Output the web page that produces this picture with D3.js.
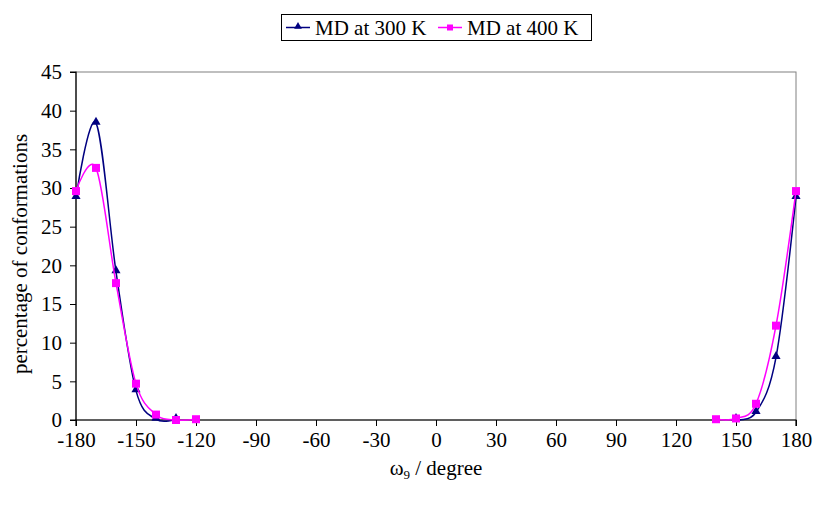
<!DOCTYPE html>
<html>
<head>
<meta charset="utf-8">
<script src="https://cdn.jsdelivr.net/npm/d3@7"></script>
<style>
  html, body { margin: 0; padding: 0; background: #fff; }
  svg { display: block; }
  svg text { font-family: "Liberation Serif", "Times New Roman", serif !important; fill: #000; }
</style>
</head>
<body>
<svg id="chart" width="814" height="505"></svg>
<script>
// ---- data ----
const angles = [-180, -170, -160, -150, -140, -130, -120, 140, 150, 160, 170, 180];
const md300 = [28.8, 38.4, 19.2, 3.8, 0.1, 0.1, null, null, 0.1, 1.0, 8.1, 28.8];
const md400 = [29.6, 32.6, 17.7, 4.7, 0.7, 0.0, 0.1, 0.1, 0.2, 2.1, 12.2, 29.6];
const seriesNames = ["MD at 300 K", "MD at 400 K"];
const xTicks = [-180, -150, -120, -90, -60, -30, 0, 30, 60, 90, 120, 150, 180];
const yTicks = [0, 5, 10, 15, 20, 25, 30, 35, 40, 45];

const colors = ["#000080", "#FF00FF"];
const FONT = "'Liberation Serif', 'Times New Roman', serif";
const FS = "21px";

const svg = d3.select("#chart");
const L = 76, R = 796, T = 72, B = 420;
const x = d3.scaleLinear().domain([-180, 180]).range([L, R]);
const y = d3.scaleLinear().domain([0, 45]).range([B, T]);

// plot area border (top/right grey)
svg.append("rect").attr("x", L).attr("y", T).attr("width", R - L).attr("height", B - T)
  .attr("fill", "none").attr("stroke", "#808080").attr("stroke-width", 1);

// axes
const yAxis = d3.axisLeft(y).tickValues(yTicks).tickSize(6).tickPadding(8).tickFormat(d => String(d));
const gy = svg.append("g").attr("transform", `translate(${L},0)`).call(yAxis);
const xAxis = d3.axisBottom(x).tickValues(xTicks).tickSize(6).tickPadding(6).tickFormat(d => String(d));
const gx = svg.append("g").attr("transform", `translate(0,${B})`).call(xAxis);
[gx, gy].forEach(g => {
  g.attr("font-family", FONT).attr("font-size", FS);
  g.select(".domain").attr("stroke", "#000").attr("stroke-width", 1.2);
  g.selectAll(".tick line").attr("stroke", "#000");
  g.selectAll(".tick text").style("font-size", FS).attr("fill", "#000");
});
gy.select(".domain").attr("d", `M-6,${B}H0V${T}H-6`);
gx.select(".domain").attr("d", `M${L},6V0H${R}V6`);

// axis titles
svg.append("text").attr("x", 436).attr("y", 475).attr("text-anchor", "middle")
  .style("font-size", FS)
  .call(t => {
    t.append("tspan").text("ω");
    t.append("tspan").attr("dy", 4).style("font-size", "13px").text("9");
    t.append("tspan").attr("dy", -4).text(" / degree");
  });
svg.append("text").attr("transform", "translate(27,254) rotate(-90)")
  .attr("text-anchor", "middle").style("font-size", FS)
  .text("percentage of conformations");

// build segments (break at gaps / nulls)
function segments(vals) {
  const segs = [];
  let cur = [];
  angles.forEach((a, i) => {
    const v = vals[i];
    if (v == null) { if (cur.length) segs.push(cur); cur = []; return; }
    if (cur.length && a - cur[cur.length - 1][0] > 10) { segs.push(cur); cur = []; }
    cur.push([a, v]);
  });
  if (cur.length) segs.push(cur);
  return segs;
}

const line = d3.line().x(d => x(d[0])).y(d => y(d[1])).curve(d3.curveCardinal.tension(0));
const allSeries = [md300, md400];

allSeries.forEach((vals, si) => {
  const g = svg.append("g");
  segments(vals).forEach(seg => {
    g.append("path").attr("d", line(seg)).attr("fill", "none")
      .attr("stroke", colors[si]).attr("stroke-width", 1.5);
  });
  const pts = angles.map((a, i) => [a, vals[i]]).filter(d => d[1] != null);
  if (si === 0) {
    g.selectAll("path.m").data(pts).enter().append("path")
      .attr("d", d3.symbol().type(d3.symbolTriangle).size(36))
      .attr("transform", d => `translate(${x(d[0])},${y(d[1]) - 1})`)
      .attr("fill", colors[si]);
  } else {
    g.selectAll("rect.m").data(pts).enter().append("rect")
      .attr("x", d => x(d[0]) - 4).attr("y", d => y(d[1]) - 4)
      .attr("width", 8).attr("height", 8).attr("fill", colors[si]);
  }
});

// legend
const lg = svg.append("g");
lg.append("rect").attr("x", 281.5).attr("y", 14.5).attr("width", 310).attr("height", 26)
  .attr("fill", "#fff").attr("stroke", "#000").attr("stroke-width", 1);
const legendX = [286, 438];
seriesNames.forEach((name, i) => {
  const lx = legendX[i];
  lg.append("line").attr("x1", lx).attr("x2", lx + 24).attr("y1", 27.5).attr("y2", 27.5)
    .attr("stroke", colors[i]).attr("stroke-width", 1.5);
  if (i === 0) {
    lg.append("path").attr("d", d3.symbol().type(d3.symbolTriangle).size(26))
      .attr("transform", `translate(${lx + 12},26.5)`).attr("fill", colors[i]);
  } else {
    lg.append("rect").attr("x", lx + 9).attr("y", 24.5).attr("width", 6).attr("height", 6)
      .attr("fill", colors[i]);
  }
  lg.append("text").attr("x", lx + 29).attr("y", 34.5).style("font-size", FS).text(name);
});
</script>
</body>
</html>
